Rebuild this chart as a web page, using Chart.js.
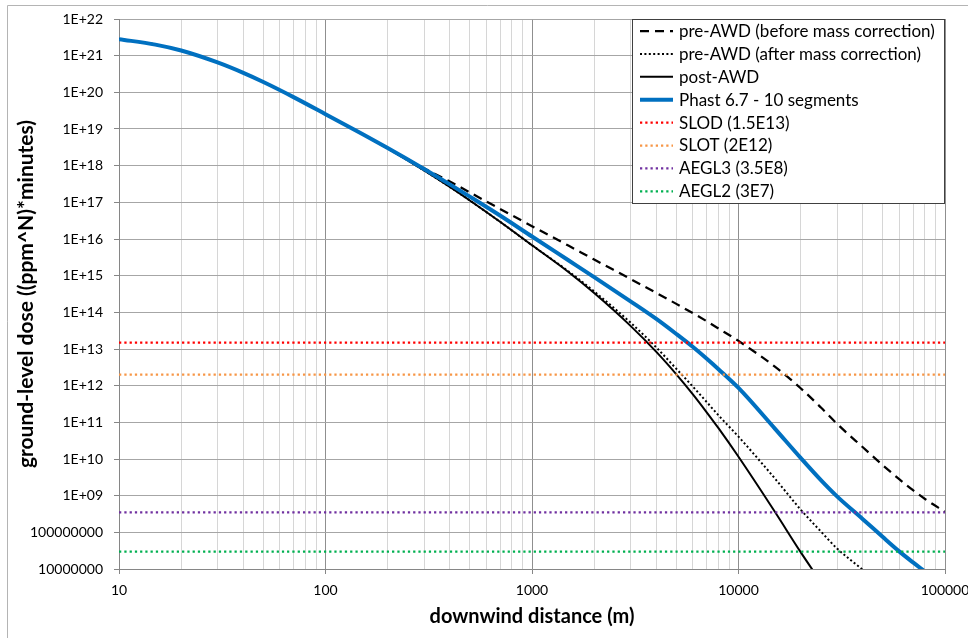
<!DOCTYPE html>
<html>
<head>
<meta charset="utf-8">
<script src="https://cdn.jsdelivr.net/npm/chart.js@4.4.1/dist/chart.umd.min.js"></script>
<style>
  html, body { margin: 0; padding: 0; background: #ffffff; }
  #wrap { width: 968px; height: 638px; position: relative; }
</style>
</head>
<body>
<div id="wrap"><canvas id="c" width="968" height="638"></canvas></div>
<script>
// ---------- DATA ----------
const distances = [10, 15, 20, 30, 40, 50, 70, 100, 150, 200, 300, 400, 500, 700, 1000, 1500, 2000, 3000, 4000, 5000, 6000, 7000, 8000, 10000, 15000, 20000, 25000, 30000, 40000, 50000, 60000, 70000, 80000, 100000];

const preAwdBefore = [2.82e21, 2.00e21, 1.38e21, 6.53e20, 3.39e20, 1.91e20, 7.41e19, 2.54e19, 7.41e18, 3.02e18, 8.51e17, 3.72e17, 1.86e17, 6.61e16, 2.24e16, 6.61e15, 2.75e15, 8.13e14, 3.39e14, 1.70e14, 9.55e13, 5.75e13, 3.63e13, 1.66e13, 3.31e12, 8.51e11, 2.57e11, 9.12e10, 2.09e10, 6.76e9, 2.82e9, 1.41e9, 8.13e8, 3.63e8];

const preAwdAfter = [2.82e21, 2.00e21, 1.38e21, 6.53e20, 3.39e20, 1.91e20, 7.41e19, 2.54e19, 7.41e18, 2.95e18, 7.41e17, 2.63e17, 1.12e17, 2.95e16, 6.76e15, 1.32e15, 3.72e14, 5.25e13, 1.10e13, 2.88e12, 9.55e11, 3.63e11, 1.55e11, 4.07e10, 2.95e9, 4.17e8, 1.07e8, 3.63e7, 9.55e6, null, null, null, null, null];

const postAwd = [2.82e21, 2.00e21, 1.38e21, 6.53e20, 3.39e20, 1.91e20, 7.41e19, 2.54e19, 7.41e18, 2.95e18, 7.41e17, 2.63e17, 1.12e17, 2.95e16, 6.76e15, 1.26e15, 3.35e14, 4.27e13, 8.32e12, 2.04e12, 5.89e11, 1.91e11, 6.92e10, 1.15e10, 3.63e8, 2.88e7, 4.47e6, null, null, null, null, null, null, null];

const phast10Segments = [2.82e21, 2.00e21, 1.38e21, 6.53e20, 3.39e20, 1.91e20, 7.41e19, 2.54e19, 7.41e18, 3.02e18, 8.13e17, 3.09e17, 1.43e17, 4.37e16, 1.17e16, 2.63e15, 9.12e14, 2.00e14, 6.61e13, 2.57e13, 1.15e13, 5.50e12, 2.82e12, 8.71e11, 6.76e10, 1.07e10, 2.69e9, 9.55e8, 2.29e8, 7.41e7, 3.02e7, 1.51e7, 8.51e6, null];

const thresholdNames = ['SLOD (1.5E13)', 'SLOT (2E12)', 'AEGL3 (3.5E8)', 'AEGL2 (3E7)'];
const thresholdValues = [1.5e13, 2e12, 3.5e8, 3e7];
const xRange = [10, 100000];

const seriesNames = ['pre-AWD (before mass correction)', 'pre-AWD (after mass correction)', 'post-AWD', 'Phast 6.7 - 10 segments'];

const xTickValues = [10, 100, 1000, 10000, 100000];
const xTickLabels = ['10', '100', '1000', '10000', '100000'];
const yTickValues = [1e7, 1e8, 1e9, 1e10, 1e11, 1e12, 1e13, 1e14, 1e15, 1e16, 1e17, 1e18, 1e19, 1e20, 1e21, 1e22];
const yTickLabels = ['10000000', '100000000', '1E+09', '1E+10', '1E+11', '1E+12', '1E+13', '1E+14', '1E+15', '1E+16', '1E+17', '1E+18', '1E+19', '1E+20', '1E+21', '1E+22'];

const xAxisTitle = 'downwind distance (m)';
const yAxisTitle = 'ground-level dose ((ppm^N)*minutes)';

// ---------- BUILD ----------
function toPoints(ys) {
  const pts = [];
  distances.forEach((d, i) => { if (ys[i] !== null) pts.push({ x: d, y: ys[i] }); });
  return pts;
}

const FONT = 'Lato, "Liberation Sans", Arial, sans-serif';

const curveStyles = [
  { borderColor: '#000000', borderWidth: 2.25, borderDash: [9, 6], order: 2 },
  { borderColor: '#000000', borderWidth: 2, borderDash: [2, 2.4], order: 2 },
  { borderColor: '#000000', borderWidth: 2, borderDash: [], order: 2 },
  { borderColor: '#0070C0', borderWidth: 4, borderDash: [], order: 1 }
];
const thresholdColors = ['#FF0000', '#F79646', '#7030A0', '#00B050'];

const curveSeries = [preAwdBefore, preAwdAfter, postAwd, phast10Segments];

const datasets = [];
curveSeries.forEach((ys, i) => {
  datasets.push(Object.assign({
    label: seriesNames[i],
    data: toPoints(ys),
    showLine: true,
    pointRadius: 0,
    pointHoverRadius: 0,
    fill: false,
    cubicInterpolationMode: 'monotone',
    borderCapStyle: 'butt'
  }, curveStyles[i]));
});
thresholdValues.forEach((v, i) => {
  datasets.push({
    label: thresholdNames[i],
    data: xRange.map(x => ({ x: x, y: v })),
    showLine: true,
    pointRadius: 0,
    pointHoverRadius: 0,
    fill: false,
    borderColor: thresholdColors[i],
    borderWidth: 2.25,
    borderDash: [2.25, 3],
    order: 0
  });
});

// x grid positions: 1..9 per decade
const xGridValues = [];
for (let k = 0; k < xTickValues.length - 1; k++) {
  for (let m = 1; m <= 9; m++) xGridValues.push(xTickValues[k] * m);
}
xGridValues.push(xTickValues[xTickValues.length - 1]);

const isMajorX = v => xTickValues.indexOf(v) >= 0;

const bgPlugin = {
  id: 'bg',
  beforeDraw(chart) {
    const ctx = chart.ctx;
    ctx.save();
    ctx.fillStyle = '#ffffff';
    ctx.fillRect(0, 0, chart.width, chart.height);
    ctx.strokeStyle = '#b4b4b4';
    ctx.lineWidth = 1;
    ctx.beginPath();
    ctx.moveTo(7.5, chart.height);
    ctx.lineTo(7.5, 5.5);
    ctx.lineTo(chart.width, 5.5);
    ctx.stroke();
    ctx.restore();
  }
};

const legendPlugin = {
  id: 'boxLegend',
  afterDraw(chart) {
    const ctx = chart.ctx;
    const L = 632.5, T = 19.5, W = 312, H = 184;
    ctx.save();
    ctx.fillStyle = '#ffffff';
    ctx.fillRect(L, T, W, H);
    ctx.strokeStyle = '#404040';
    ctx.lineWidth = 1;
    ctx.strokeRect(L, T, W, H);
    const ds = chart.data.datasets;
    ctx.font = '17px ' + FONT;
    ctx.textBaseline = 'middle';
    ctx.textAlign = 'left';
    ds.forEach((d, i) => {
      const y = 31 + i * 22.9;
      ctx.beginPath();
      ctx.strokeStyle = d.borderColor;
      ctx.lineWidth = d.borderWidth;
      ctx.setLineDash(d.borderDash || []);
      ctx.lineCap = 'butt';
      ctx.moveTo(640, y);
      ctx.lineTo(673, y);
      ctx.stroke();
      ctx.setLineDash([]);
      ctx.fillStyle = '#000000';
      ctx.fillText(d.label, 679, y + 0.5);
    });
    ctx.restore();
  }
};

new Chart(document.getElementById('c'), {
  type: 'scatter',
  data: { datasets: datasets },
  plugins: [bgPlugin, legendPlugin],
  options: {
    responsive: false,
    animation: false,
    events: [],
    layout: { padding: { left: 0, right: 23, top: 19, bottom: 0 } },
    plugins: { legend: { display: false }, tooltip: { enabled: false } },
    elements: { line: { tension: 0.4 } },
    scales: {
      x: {
        type: 'logarithmic',
        min: 10,
        max: 100000,
        afterBuildTicks(scale) {
          scale.ticks = xGridValues.map(v => ({ value: v, major: isMajorX(v) }));
        },
        afterFit(scale) {
          scale.height = 69;
          scale.paddingLeft = 0;
          scale.paddingRight = 0;
        },
        ticks: {
          autoSkip: false,
          maxRotation: 0,
          minRotation: 0,
          padding: 8,
          color: '#000000',
          font: { family: FONT, size: 14 },
          callback(value) {
            const i = xTickValues.indexOf(value);
            return i >= 0 ? xTickLabels[i] : '';
          }
        },
        grid: {
          color: c => (c.tick && isMajorX(c.tick.value)) ? '#8f8f8f' : '#d6d6d6',
          tickColor: c => (c.tick && isMajorX(c.tick.value)) ? '#868686' : 'rgba(0,0,0,0)',
          tickLength: 5,
          lineWidth: 1
        },
        border: { color: '#868686', width: 1 },
        title: {
          display: true,
          text: xAxisTitle,
          color: '#000000',
          font: { family: FONT, size: 20, weight: 'bold' },
          padding: { top: 0, bottom: 9 }
        }
      },
      y: {
        type: 'logarithmic',
        min: 1e7,
        max: 1e22,
        afterBuildTicks(scale) {
          scale.ticks = yTickValues.map(v => ({ value: v, major: true }));
        },
        afterFit(scale) {
          scale.width = 119;
          scale.paddingTop = 0;
          scale.paddingBottom = 0;
        },
        ticks: {
          autoSkip: false,
          padding: 11,
          color: '#000000',
          font: { family: FONT, size: 14 },
          callback(value) {
            const i = yTickValues.indexOf(value);
            return i >= 0 ? yTickLabels[i] : '';
          }
        },
        grid: {
          color: '#a6a6a6',
          tickColor: '#868686',
          tickLength: 5,
          lineWidth: 1
        },
        border: { color: '#868686', width: 1 },
        title: {
          display: true,
          text: yAxisTitle,
          color: '#000000',
          font: { family: FONT, size: 21, weight: 'bold' },
          padding: { top: 14, bottom: 0 }
        }
      }
    }
  }
});
</script>
</body>
</html>
